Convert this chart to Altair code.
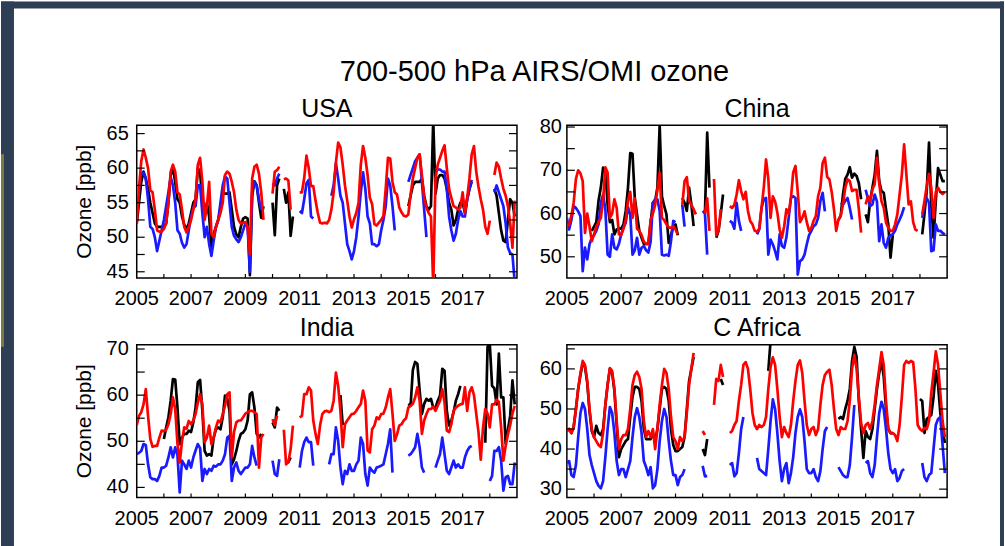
import altair as alt
import pandas as pd

N = None
FONT = "Liberation Sans"
W, H = 381, 153

# ---------------- data: monthly values 2005-01 .. 2018-12 (one row per year) ----------------
usa_black = [
    [52, 55, 58, 59.5, 58.5, 57, 55, 53.5, 52, 51.5, 51.5, 51.5],
    [51.6, 52, 55, 59, 60, 58, 55.5, 55, 53, 51.8, 51.2, 52],
    [53.5, 55, 55.5, 60, 59.5, 55, 53, 55, 53, 48.5, 50.5, 51.5],
    [52.5, 54, 56.5, 56.3, 56.3, 56.5, 54, 51.5, 50.4, 50, 51.5, 52.7],
    [52.9, 52.7, 44.5, 56, 58.1, 57.5, 55, 52.8, 54.5, N, N, N],
    [55, 50.3, 57.5, 58.5, N, 57, 55, 56.5, 50.2, 53, N, N],
    [N] * 12,
    [N] * 12,
    [N] * 12,
    [N] * 12,
    [54.5, 56, 57.5, 58, 58, 58, 58.5, 56, 54.5, 54, 54.5, 67],
    [56.3, 58.5, 59, 59, 58.5, 57, 55, 54, 51.7, 52.5, 54, 55],
    [55, 53.5, 55.5, 57, 58, N, N, N, N, N, N, N],
    [N, N, 57, 56, 53.5, 51, 49.5, 49.3, 52.5, 55.5, 55, 53],
]
usa_blue = [
    [N, 57, 59.3, 59.3, 58.5, 55.5, 51.5, 51.2, 50, 48, 49.5, 51],
    [52.5, 54.5, 56.5, 58.7, 57.5, 55, 51, 50.5, 49.2, 48.5, 49, 51],
    [53, 54.3, 54.5, 57.5, 57.5, 53.5, 50, 51.5, 49, 47.3, 49.5, 51.5],
    [52.5, 55, 57.5, 58.8, 58.5, 55, 51.5, 50.2, 49.7, 49.3, 50, 51],
    [52, 51.5, 45, 56.5, 58, 57.5, 55.5, 54, N, N, N, N],
    [57.8, 57.5, 58.5, 59.2, N, N, N, N, N, N, N, N],
    [53.8, 53.5, 55.5, 57.8, 58.3, 53, 52.7, N, N, N, N, N],
    [N, N, 56, 57.5, 60.7, 58.5, 56, 55, 52, 49, 48, 46.8],
    [48, 50, 53, 56.5, 59.4, 57, 53, 52, 49, 49, 48.7, 49],
    [51, 52.5, 54.5, 58.5, 57.5, 54.5, 51, N, N, N, N, N],
    [58, 59, 60, 61, 61.5, 62, 58, 54, 50, N, N, N],
    [60, 59.8, 59.8, 59.5, 59.5, 57, 53, 51, 49.5, 50.5, 52.5, 53.8],
    [53, 53, 55.5, 57, 58.3, N, N, N, N, N, N, N],
    [N, N, 56.5, 57.5, 56.5, 55.5, 54.5, 52, 48.5, 47.7, 47.5, 43.5],
]
usa_red = [
    [52, 57, 61, 62.7, 61.5, 60, 56.8, 56.5, 54, 51, 50.8, 50.8],
    [51.2, 52, 55, 59.5, 60.5, 59.5, 56.5, 56.2, 54, 51.5, 50.7, 51.5],
    [52.5, 54, 55.5, 60.5, 61.5, 58, 52.5, 54.5, 58, 50.5, 50, 51.5],
    [52.5, 53.5, 55, 59, 59.5, 59.2, 58, 56.5, 54, 52.5, 52, 52.1],
    [52.2, 51.5, 47.5, 58.5, 60.2, 60.5, 59.2, 56.5, 52.5, N, N, N],
    [56.3, 59.5, 59.7, 60.2, N, 58.4, 58.5, 58.2, 54, N, N, N],
    [56.5, 56.5, 58.6, 61.8, 60, 57.4, 57.4, 55.3, 53.5, 52.1, 52, 52.1],
    [52, 52.5, 54, 56.5, 60.8, 63.7, 63, 60.5, 57.5, 55.3, 53, 51.4],
    [52.6, 53.5, 55, 60.5, 63.2, 61.5, 59, 55.7, 54.8, 51.9, 51.7, 52.1],
    [52.5, 53.1, 57, 61.5, 61.4, 58, 56.5, 56.2, 54.3, 53.6, 53.1, 53],
    [53.3, 56.2, 58.5, 60, 61.5, 62, 59, 55.7, 54.3, 53.5, 53, 43],
    [58.5, 60.5, 61.5, 62.5, 63.3, 60, 57, 55.7, 54.5, 54.3, 54, 54.3],
    [56.5, 53.5, 55.7, 58.5, 62, 63.2, 59.5, 57.3, 55.5, 54, 51.5, 50.5],
    [52.4, N, 59, 60.8, 60.2, 58.5, 57, 56, 54.5, 52, 48.5, 55.3],
]

china_black = [
    [N, N, N, N, N, N, N, N, N, N, N, 56],
    [57, 58, 63, 66, 70.6, 70, 62, 58, 58.5, 55.2, 56.3, 56.5],
    [56.5, 57.5, 60.6, 66, 74, 73.8, 63.6, 59.8, 56, 54.4, 53, 53],
    [53, 57.9, 62.5, 62.9, 66, 80.5, 64, 61.7, 59.8, 53.2, 55, 57],
    [57.5, 55, N, 63.6, 62.5, 60.6, 66, 62.1, 57.1, N, N, N],
    [N, 60, 78.7, 66, N, N, 54.4, 56, 60, 64.4, N, N],
    [N] * 12,
    [N] * 12,
    [N] * 12,
    [N] * 12,
    [58.5, 59.5, 64.4, 68, 69, 70.7, 68.3, 69.2, 68.7, 67, 63.3, N],
    [59.8, 58, 63, 66, 69, 74.5, 67.5, 65.2, 64.8, 61, 57.5, 49.8],
    [55, N, N, N, N, N, N, N, N, N, N, N],
    [N, 55.2, 60, 65.2, 76.4, 62, 54.4, 62.9, 70.5, 69, 67.5, 67.5],
]
china_blue = [
    [59, 56.3, 58.5, 61.7, 61.3, 60.5, 59.4, 46.7, 52.1, 49.4, 52.9, 54.4],
    [55, 56, 57.5, 62.5, 64.4, 61, 50.5, 50, 55.2, 52.1, 51.7, 53],
    [55.2, 56.7, 57.9, 61.5, 59.8, 50.5, 51.5, 54.4, 50.5, 52.1, 52.5, 51.5],
    [51, 53.5, 62.5, 63.3, 63.3, 60.6, 50.5, 50.3, 50.5, 50.2, 53.6, 58.3],
    [58, N, N, 62, 57, N, N, N, N, N, N, N],
    [60.6, 60, 50.5, N, N, N, N, N, N, N, N, N],
    [58.3, 57.9, 56.5, 62.5, 58.3, 56, N, N, N, N, N, N],
    [55.2, 56.3, 61.3, 63.3, 63.6, 50.5, 54, 52.9, 51.3, 49.4, 55.2, 52.5],
    [52.1, 54.5, 59, 63.6, 64, 63.6, 45.9, 49, 49.4, 50.5, 52.9, 55],
    [56, 57.1, 57.5, 59, 62.9, 64.8, 60.5, N, N, N, N, N],
    [N, 62.5, 62.1, 62.9, 63.6, 61.3, 58.6, N, N, N, N, N],
    [65.5, 63.5, 61.7, 62.1, 64.4, 62.8, 53.6, 57.5, 53.2, 52.1, 54.4, 55],
    [55.2, 56, 57.5, 58.6, 59.8, 61.5, N, N, N, N, N, N],
    [N, 59, 62.1, 63.6, 62.5, 51.3, 51.5, 57.5, 56, 56, 55.5, 55.2],
]
china_red = [
    [57, 57.5, 59.5, 62.5, 68, 70, 69.3, 67.5, 55.5, 60, 57, 53.6],
    [55.2, 57, 58, 59, 63, 70.7, 69.5, 59, 60, 63.3, 61.3, 55.2],
    [55, 56.5, 58.5, 63, 65, 59, 63.5, 56.5, 56, 55, 53.5, 53],
    [53, 58.5, 60, 62, 65.5, 69.4, 59, 58.5, 57.5, 56.8, 56.7, 57],
    [56.3, 55.2, N, 62, 67.5, 68.4, 62.9, 62, 61, 59.8, N, N],
    [N, 60, 63.5, 56, N, 68, 55, 56, 61, N, N, N],
    [61.7, 61.3, 62, 64.4, 67.7, 65.2, 63.3, 65, 60.6, 58.3, 57.5, 56],
    [55.8, 56.5, 61.3, 66, 72.5, 68, 59, 64, 62.8, 60.2, 56.3, 54.4],
    [57, 61, 60, 63.6, 69.5, 71, 65, 58, 59, 60.5, 58, 56],
    [56.7, 58.3, 59.4, 64, 66, 71.7, 72.9, 68.5, 67.9, 65, 61, 56],
    [58.6, 59.5, 62.1, 66, 67.9, 67.5, 65.2, 65.5, 65.5, 61, 55.6, N],
    [62.1, 64, 62.8, 65.6, 66.8, 72.9, 67, 62.8, 61.3, 57.9, 56.7, 56],
    [56, 57.5, 59.8, 64.4, 69, 76, 69, 62.1, 62.8, 58, 56.3, 56],
    [N, 59.8, 62.9, 66.4, 69.2, 66, 59, 65, 66, 65, 64.5, 65],
]

india_black = [
    [N] * 12,
    [50.5, 53, 55.2, 58.8, 63.5, 63.4, 57.3, 49.4, 50.8, 51.6, 51.6, 52.3],
    [52, 54.1, 57.3, 62.8, 63.3, 56.6, 47.9, 46.9, 47.2, 46.9, 50.8, 52.6],
    [53, 52.6, 55.2, 59.9, 59.2, 56.6, 45, 46.1, 47.9, 50.1, 51.6, 51.9],
    [52.6, 54.5, 60.2, 60.6, 57.3, 51.6, 50.8, 51.6, N, N, N, N],
    [54.1, 53, 57.3, 56.6, N, N, 45.5, 45.5, 46.5, N, N, N],
    [N] * 12,
    [N, N, N, N, N, N, 60, 53.5, N, N, N, N],
    [N] * 12,
    [N] * 12,
    [58.1, 57.7, 65.5, 67.2, 66.8, 61, 55.9, 58.1, 59.2, 58.8, 59.2, 57.3],
    [57.3, 58.8, 59.9, 65.7, 65.3, 56.6, 53.4, 54.5, 56.3, 58.8, 60.2, 62],
    [N, N, N, N, N, N, N, N, N, N, 49.7, 70.5],
    [71, 62, 61.5, 58, 69, 59.5, 59.5, 49.5, 52.5, 55.5, 63.2, 58],
]
india_blue = [
    [47.2, 47.5, 47.9, 49.4, 49.2, 45, 42.2, 41.8, 41.8, 41.4, 42.5, 44.3],
    [44.3, 44.7, 46.5, 48.7, 46.5, 48.7, 47, 38.9, 45.8, 45, 44, 45.8],
    [44.3, 46.5, 48, 49.4, 48.5, 41.4, 44, 42.9, 44, 43.6, 44.7, 44.5],
    [45, 45, 45.8, 47.2, 50.8, 51.2, 41.4, 44.3, 45.4, 43.6, 42.9, 43.6],
    [44.3, 44.3, 45, 49, 46.5, 44.7, N, N, N, N, N, N],
    [45.8, 42.9, 42.5, 46.1, N, N, N, N, N, N, N, N],
    [44.3, 47.9, 49.8, 50.8, 49.8, 49.8, 44.7, N, N, N, N, N],
    [N, 45, 47.2, 47.2, 53, 50.1, 44.3, 40.7, 43.6, 42.9, 45, 43.6],
    [43.6, 45, 45.8, 50.8, 49.4, 42.9, 40.4, 44.3, 43.6, 43.2, 44.3, 44.5],
    [44.7, 45, 47.2, 49.4, 52.6, 43.2, N, N, N, N, N, N],
    [46.9, 47.2, 47.9, 48.7, 51.6, 48.7, 44.3, 43.2, N, N, N, N],
    [44.3, 45.8, 47.2, 50.8, 47.2, 43.6, 42.9, 44.3, 45.8, 44.3, 45, 44.3],
    [44.3, 46.5, 47.9, 48.7, 49, N, N, N, N, N, N, N],
    [41.4, 42.5, 47.9, 47.9, 48.7, 45.8, 39.3, 42.2, 42.5, 40.7, 40.7, 45.4],
]
india_red = [
    [53.5, 55.5, 56.3, 58, 61.3, 55.5, 50.5, 48.8, 49, 49, 50.8, 52.3],
    [52.2, 52.5, 53.7, 55.9, 59.5, 57, 49.5, 45.4, 50, 53, 52.7, 54.4],
    [53.7, 54.5, 55.9, 58.4, 60.2, 58, 49.8, 50.8, 53.4, 49.4, 50.8, 53],
    [54.5, 54.1, 55.9, 57.7, 60.2, 60.6, 46.5, 52, 54.1, 54.5, 54.5, 55.2],
    [56, 56.3, 56.6, 56.6, 56.3, 55.9, 44.3, 50.8, 51.6, N, N, N],
    [54.8, 53.5, 55.5, N, N, 52.5, 45, 45.5, 48.3, 53.4, N, N],
    [55.2, 55.5, 60.2, 60.2, 61.7, 61, 54.5, 51.6, 49.4, 53.4, 55.9, 56.5],
    [56.6, 56.3, 56.6, 58.8, 64.9, 62, 56.6, 48.7, 53.7, 54.5, 55.2, 55.9],
    [56, 56.6, 57.4, 58.1, 61, 58.8, 48, 47.6, 52.6, 53.4, 55.2, 54.8],
    [55.9, 56, 57.3, 59.5, 61.3, 56, 50.1, 51.5, 53.4, 53.7, 54.5, 55],
    [57.3, 57.7, 58.1, 59.5, 61.7, 58.8, 51.6, 54.5, 55.9, 57, 57, 57.5],
    [56.6, 57.7, 58.8, 61.3, 58.4, 52.3, 52, 53.7, 56.6, 57.3, 57.7, 58],
    [58.1, 61.7, 56.6, 60.6, 61.7, 60, 56, 52, 46, 53, 57, 56],
    [53, 58, 58, 59, 58.5, 53, 45.8, 49, 51.5, 53.5, 56, 57.7],
]

caf_black = [
    [44.5, 45, 44, 45.5, 50, 55, 58.5, 61.5, 60.5, 56.5, 49.5, 44.5],
    [43, 45.8, 44, 43.5, 45, 51, 56, 60, 59, 54.5, 46, 38],
    [40, 41, 42, 42.5, 48, 53, 55.5, 55.5, 55, 52, 45, 42.5],
    [42.5, 42.5, 44, 42, 45, 50, 55, 55.5, 55, 52, 45, 41],
    [39.5, 39.5, 40, 40.5, 43, 50, 57, 60, 63, N, N, N],
    [40, 38.5, 42.5, N, N, N, N, N, 57.5, 56, N, N],
    [N] * 12,
    [N, N, N, N, N, 59.5, 67, N, N, N, N, N],
    [N] * 12,
    [N] * 12,
    [47.5, 48, 47.5, 50, 52, 55, 62, 65.5, 63, 52, 45, 37.8],
    [44.5, 43, 42.5, 45, 50, 55, 59, 62, 58, 50, 45, 44],
    [44, N, N, N, N, N, N, N, N, N, N, N],
    [52.5, 52, 44, 47.5, 48, 48.5, 53, 59.5, 56, 49, 45, 41.5],
]
caf_blue = [
    [36.5, 37, 33.5, 33, 36, 43, 49, 51.5, 50, 45, 38.5, 36],
    [34, 32, 30.8, 30.2, 32, 38, 45, 50.5, 49, 44, 37, 33.5],
    [35, 35, 33, 35, 37, 43, 48, 50.2, 48, 44, 37, 35.5],
    [33.5, 35.5, 30.2, 31, 35, 42, 47, 50, 48, 42, 37, 33.5],
    [33.5, 31, 33, 33.5, 35, N, N, N, N, N, N, N],
    [35.8, 33.2, 33.3, N, N, N, N, N, N, N, N, N],
    [36, 36.5, 33.2, 34, 39, 45, 48, N, N, N, N, N],
    [37.8, 35, 34.5, 34, 33.5, 40, 47, 52.4, 50, 44, 37, 32],
    [35, 36.5, 31.5, 34, 38, 44, 48, 49.9, 48, 42, 35, 34],
    [34, 35, 33, 32, 34.5, 40, 44.5, 45.5, N, N, N, N],
    [35.5, 34.5, 33.5, 33, 33, 36, 43, 51, N, N, N, N],
    [36.5, 37, 34, 33, 36, 43, 49, 51.8, 50, 45, 39, 35],
    [34, 35, 32, 32.8, 34.5, 35, N, N, N, N, N, N],
    [N, 36.5, 33, 32, 33.5, 34, 40, 46, 47.5, 48, 41, 34],
]
caf_red = [
    [44.5, 45, 44, 45.5, 50, 55, 59, 62, 61, 57, 50, 45],
    [43, 42, 41, 40.5, 44, 51, 56, 60.2, 59.5, 55, 47, 40],
    [42.5, 43.5, 43.5, 45, 50, 56, 58.5, 59.3, 58, 55, 47, 43],
    [44.5, 43, 45, 40, 45, 51, 56, 60, 59, 55, 48, 43],
    [42, 40, 43, 42, 43, 49, 56, 60, 64, N, N, N],
    [44.5, 43.5, N, N, N, 51, 57.5, 57, 61, 58, N, N],
    [44, 44.5, 46, 47, 52, 56, 61, 61.7, 60, 55, 49, 46],
    [45, 46, 45.5, 46, 48, 55, 60.5, 62.9, 61, 55, 48, 43],
    [45.5, 44, 43, 46, 52, 57, 61, 62.1, 59, 52, 46, 43.5],
    [45, 45.5, 43.5, 45, 51, 56, 58.5, 59.3, 59.8, 56, 50, 45],
    [43.5, 45.5, 45, 45, 47, 52, 60, 63.5, 60, 53, 46.5, 44],
    [46, 46.5, 45, 47, 51, 56, 60, 64.2, 61, 52, 45, 44],
    [44, 43.5, 42, 46, 53, 61, 62, 61.5, 62, 61.7, 55, 46],
    [45, 44.5, 45.3, 45, 47, 54, 59, 64.4, 61, 54, 47, 43],
]

X_DOMAIN = [2005, 2019]
X_LABELS = [2005, 2007, 2009, 2011, 2013, 2015, 2017]
X_TICKS = list(range(2006, 2019))

PANELS = [
    # name, series, y domain, y labels, y ticks, show y title
    ("USA", (usa_black, usa_blue, usa_red), [44.1, 66.2], [45, 50, 55, 60, 65],
     [45, 47.5, 50, 52.5, 55, 57.5, 60, 62.5, 65], True),
    ("China", (china_black, china_blue, china_red), [45.1, 80.4], [50, 60, 70, 80],
     [50, 55, 60, 65, 70, 75, 80], False),
    ("India", (india_black, india_blue, india_red), [37.8, 70.9], [40, 50, 60, 70],
     [40, 45, 50, 55, 60, 65, 70], True),
    ("C Africa", (caf_black, caf_blue, caf_red), [27.9, 66.0], [30, 40, 50, 60],
     [30, 35, 40, 45, 50, 55, 60, 65], False),
]
COLORS = ["#000000", "#1a1aff", "#ff0000"]
MAIN_TITLE = "700-500 hPa AIRS/OMI ozone"
Y_TITLE = "Ozone [ppb]"


def flatten(rows):
    assert len(rows) == 14
    out = []
    for r in rows:
        assert len(r) == 12, r
        out.extend(r)
    return out


def to_df(rows):
    vals = flatten(rows)
    recs, seg, prev = [], 0, False
    for i, v in enumerate(vals):
        if v is None:
            if prev:
                seg += 1
            prev = False
            continue
        recs.append({"t": 2005 + i / 12.0, "v": v, "seg": seg})
        prev = True
    return pd.DataFrame(recs)


def text_layer(df, size, **enc):
    return alt.Chart(df).mark_text(fontSize=size, font=FONT, color="black",
                                   **enc.pop("_mark", {})).encode(**enc)


def panel(name, series, ydom, ylabels, yticks, ytitle, decorate=False):
    xs = alt.Scale(domain=X_DOMAIN, nice=False, zero=False)
    ys = alt.Scale(domain=ydom, nice=False, zero=False)
    layers = []
    for rows, col in zip(series, COLORS):
        df = to_df(rows)
        layers.append(
            alt.Chart(df).mark_line(color=col, strokeWidth=2.7, clip=True, strokeJoin="round")
            .encode(x=alt.X("t:Q", scale=xs, axis=None),
                    y=alt.Y("v:Q", scale=ys, axis=None),
                    detail="seg:N", order="t:Q")
        )
    ytk = pd.DataFrame({"v": yticks})
    xtk = pd.DataFrame({"t": X_TICKS})
    layers.append(alt.Chart(ytk).mark_rule(color="black", strokeWidth=1.2).encode(
        y=alt.Y("v:Q", scale=ys, axis=None), x=alt.value(0), x2=alt.value(8)))
    layers.append(alt.Chart(ytk).mark_rule(color="black", strokeWidth=1.2).encode(
        y=alt.Y("v:Q", scale=ys, axis=None), x=alt.value(W - 8), x2=alt.value(W)))
    layers.append(alt.Chart(xtk).mark_rule(color="black", strokeWidth=1.2).encode(
        x=alt.X("t:Q", scale=xs, axis=None), y=alt.value(H - 4), y2=alt.value(H)))
    # tick labels (positioned through the panel scales)
    ylab = pd.DataFrame({"v": ylabels, "s": [str(v) for v in ylabels]})
    layers.append(alt.Chart(ylab).mark_text(fontSize=20, font=FONT, color="black",
                                             align="right", baseline="middle").encode(
        y=alt.Y("v:Q", scale=ys, axis=None), x=alt.value(-8 if ytitle else -5), text="s:N"))
    xlab = pd.DataFrame({"t": X_LABELS, "s": [str(v) for v in X_LABELS]})
    layers.append(alt.Chart(xlab).mark_text(fontSize=20, font=FONT, color="black",
                                             align="center", baseline="alphabetic").encode(
        x=alt.X("t:Q", scale=xs, axis=None), y=alt.value(H + 27.5), text="s:N"))
    if ytitle:
        layers.append(alt.Chart(pd.DataFrame({"s": [Y_TITLE]})).mark_text(
            fontSize=21, font=FONT, color="black", align="center", baseline="middle",
            angle=270).encode(text="s:N", x=alt.value(-52), y=alt.value(H / 2)))
    layers.append(alt.Chart(pd.DataFrame({"label": [name]})).mark_text(
        fontSize=25, font=FONT, color="black", baseline="alphabetic", align="center").encode(
        text="label:N", x=alt.value(W / 2), y=alt.value(-8.5)))
    if decorate:
        one = pd.DataFrame({"a": [0]})
        dark = "#2d3e55"
        for (x1, x2, y1, y2, c) in [(-136, 869, -124, -117, dark),
                                   (-136, -123, -124, 422, dark),
                                   (865, 869, -124, 422, dark),
                                   (-136, -133, 29, 222, "#7b7e3b")]:
            layers.append(alt.Chart(one).mark_rect(color=c, clip=False).encode(
                x=alt.value(x1), x2=alt.value(x2), y=alt.value(y1), y2=alt.value(y2)))
        layers.append(alt.Chart(pd.DataFrame({"label": [MAIN_TITLE]})).mark_text(
            fontSize=29, font=FONT, color="black", baseline="alphabetic", align="center").encode(
            text="label:N", x=alt.value(398.5), y=alt.value(-44)))
    return alt.layer(*layers).properties(width=W, height=H)


charts = [panel(*p, decorate=(i == 0)) for i, p in enumerate(PANELS)]
chart = alt.concat(*charts, columns=2, spacing={"row": 67, "column": 50}, bounds="flush").properties(
    padding=0, background="white"
).configure(font=FONT).configure_view(stroke="black", strokeWidth=1.5)

chart.save("out.html", embed_options={"renderer": "svg", "actions": False})
